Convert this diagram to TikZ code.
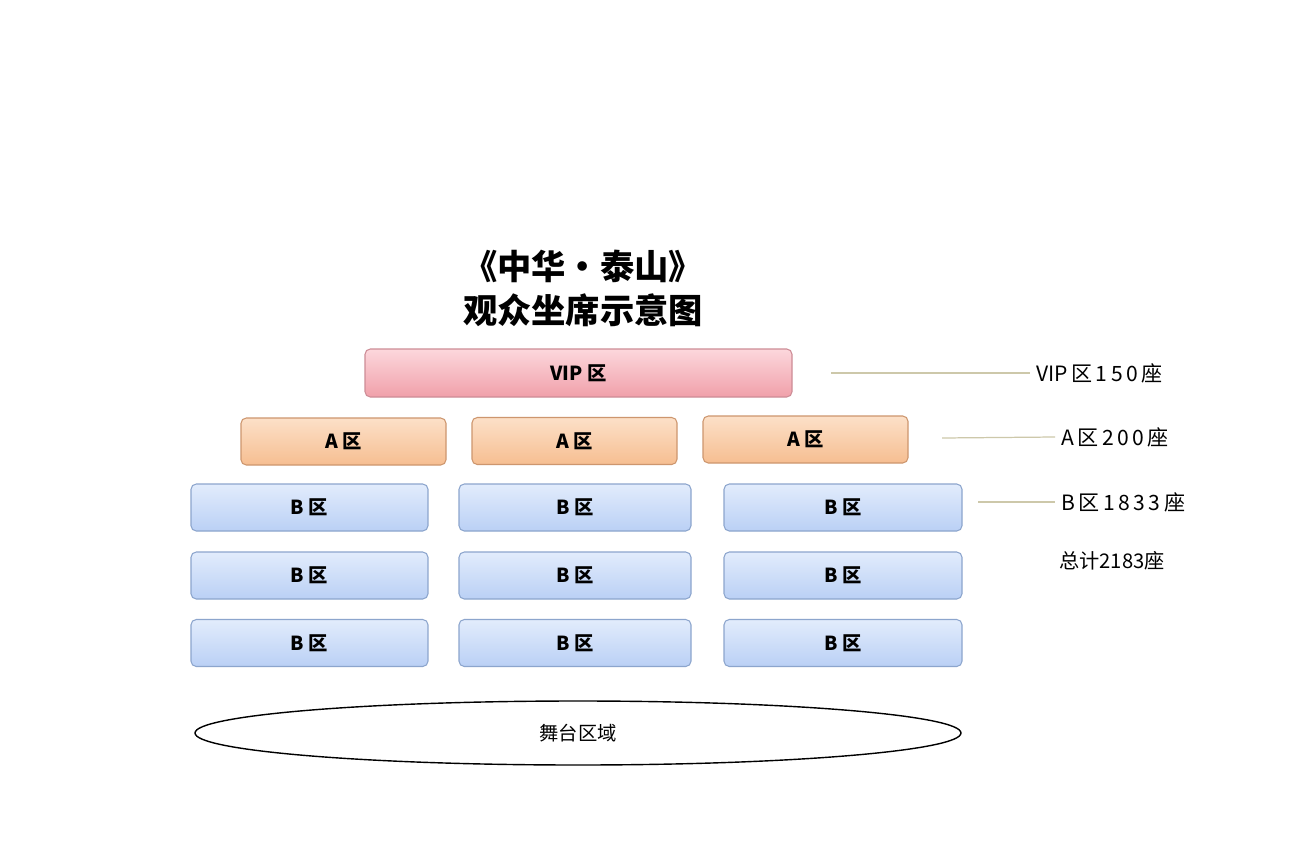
\documentclass[tikz,border=0pt]{standalone}
\usepackage{fontspec}
\usetikzlibrary{shapes.geometric}
\setmainfont{Noto Sans CJK SC}
\definecolor{bTop}{RGB}{226,236,252}
\definecolor{bBot}{RGB}{186,208,245}
\definecolor{bLine}{RGB}{140,165,205}
\definecolor{aTop}{RGB}{252,224,200}
\definecolor{aBot}{RGB}{246,190,145}
\definecolor{aLine}{RGB}{205,150,110}
\definecolor{vTop}{RGB}{252,215,220}
\definecolor{vBot}{RGB}{240,160,170}
\definecolor{vLine}{RGB}{205,140,150}
\definecolor{leadc}{RGB}{205,200,170}
\begin{document}
\begin{tikzpicture}[x=0.02cm,y=-0.02cm,
  seat/.style={rounded corners=3pt,draw=#1,line width=0.6pt,inner sep=0pt,font=\fontsize{11}{13}\selectfont\bfseries},
  vip/.style={seat=vLine,top color=vTop,bottom color=vBot},
  azone/.style={seat=aLine,top color=aTop,bottom color=aBot},
  bzone/.style={seat=bLine,top color=bTop,bottom color=bBot},
  side/.style={anchor=west,font=\fontsize{12}{14}\selectfont},
  lead/.style={draw=leadc,line width=0.7pt}]
\useasboundingbox (0,0) rectangle (1295,862);
\fill[white] (0,0) rectangle (1295,862);
\node[font=\fontsize{19.5}{25}\selectfont,align=center] (title) at (583,288) {\textbf{《中华·泰山》}\\\textbf{观众坐席示意图}};
\node[vip,minimum width=427*0.02cm,minimum height=48*0.02cm] (vip) at (578.5,373) {VIP 区};
\foreach \n/\x/\y in {a1/343.5/441.5,a2/574.5/441,a3/805.5/439.5}
  \node[azone,minimum width=205*0.02cm,minimum height=47*0.02cm] (\n) at (\x,\y) {A 区};
\foreach \r/\y in {1/507.5,2/575.5,3/643}
  \foreach \c/\x/\w in {1/309.5/237,2/575/232,3/843/238}
    \node[bzone,minimum width=\w*0.02cm,minimum height=47*0.02cm] (b\r\c) at (\x,\y) {B 区};
\node[draw,line width=0.8pt,ellipse,inner sep=0pt,minimum width=766*0.02cm,minimum height=64*0.02cm,font=\fontsize{11}{13}\selectfont] (stage) at (578,733) {舞台区域};
\node[side] (lv) at (1030,373) {VIP\,区\,1\,5\,0\,座};
\node[side] (la) at (1055,437) {A\,区\,2\,0\,0\,座};
\node[side] (lb) at (1055,502) {B\,区\,1\,8\,3\,3\,座};
\node[side,font=\fontsize{11.5}{13}\selectfont] (lt) at (1053,561) {总计2183座};
\coordinate (cv) at (831,373); \coordinate (ca) at (942,438); \coordinate (cb) at (978,502);
\draw[lead] (cv) -- (lv.west);
\draw[lead] (ca) -- (la.west);
\draw[lead] (cb) -- (lb.west);
\end{tikzpicture}
\end{document}
